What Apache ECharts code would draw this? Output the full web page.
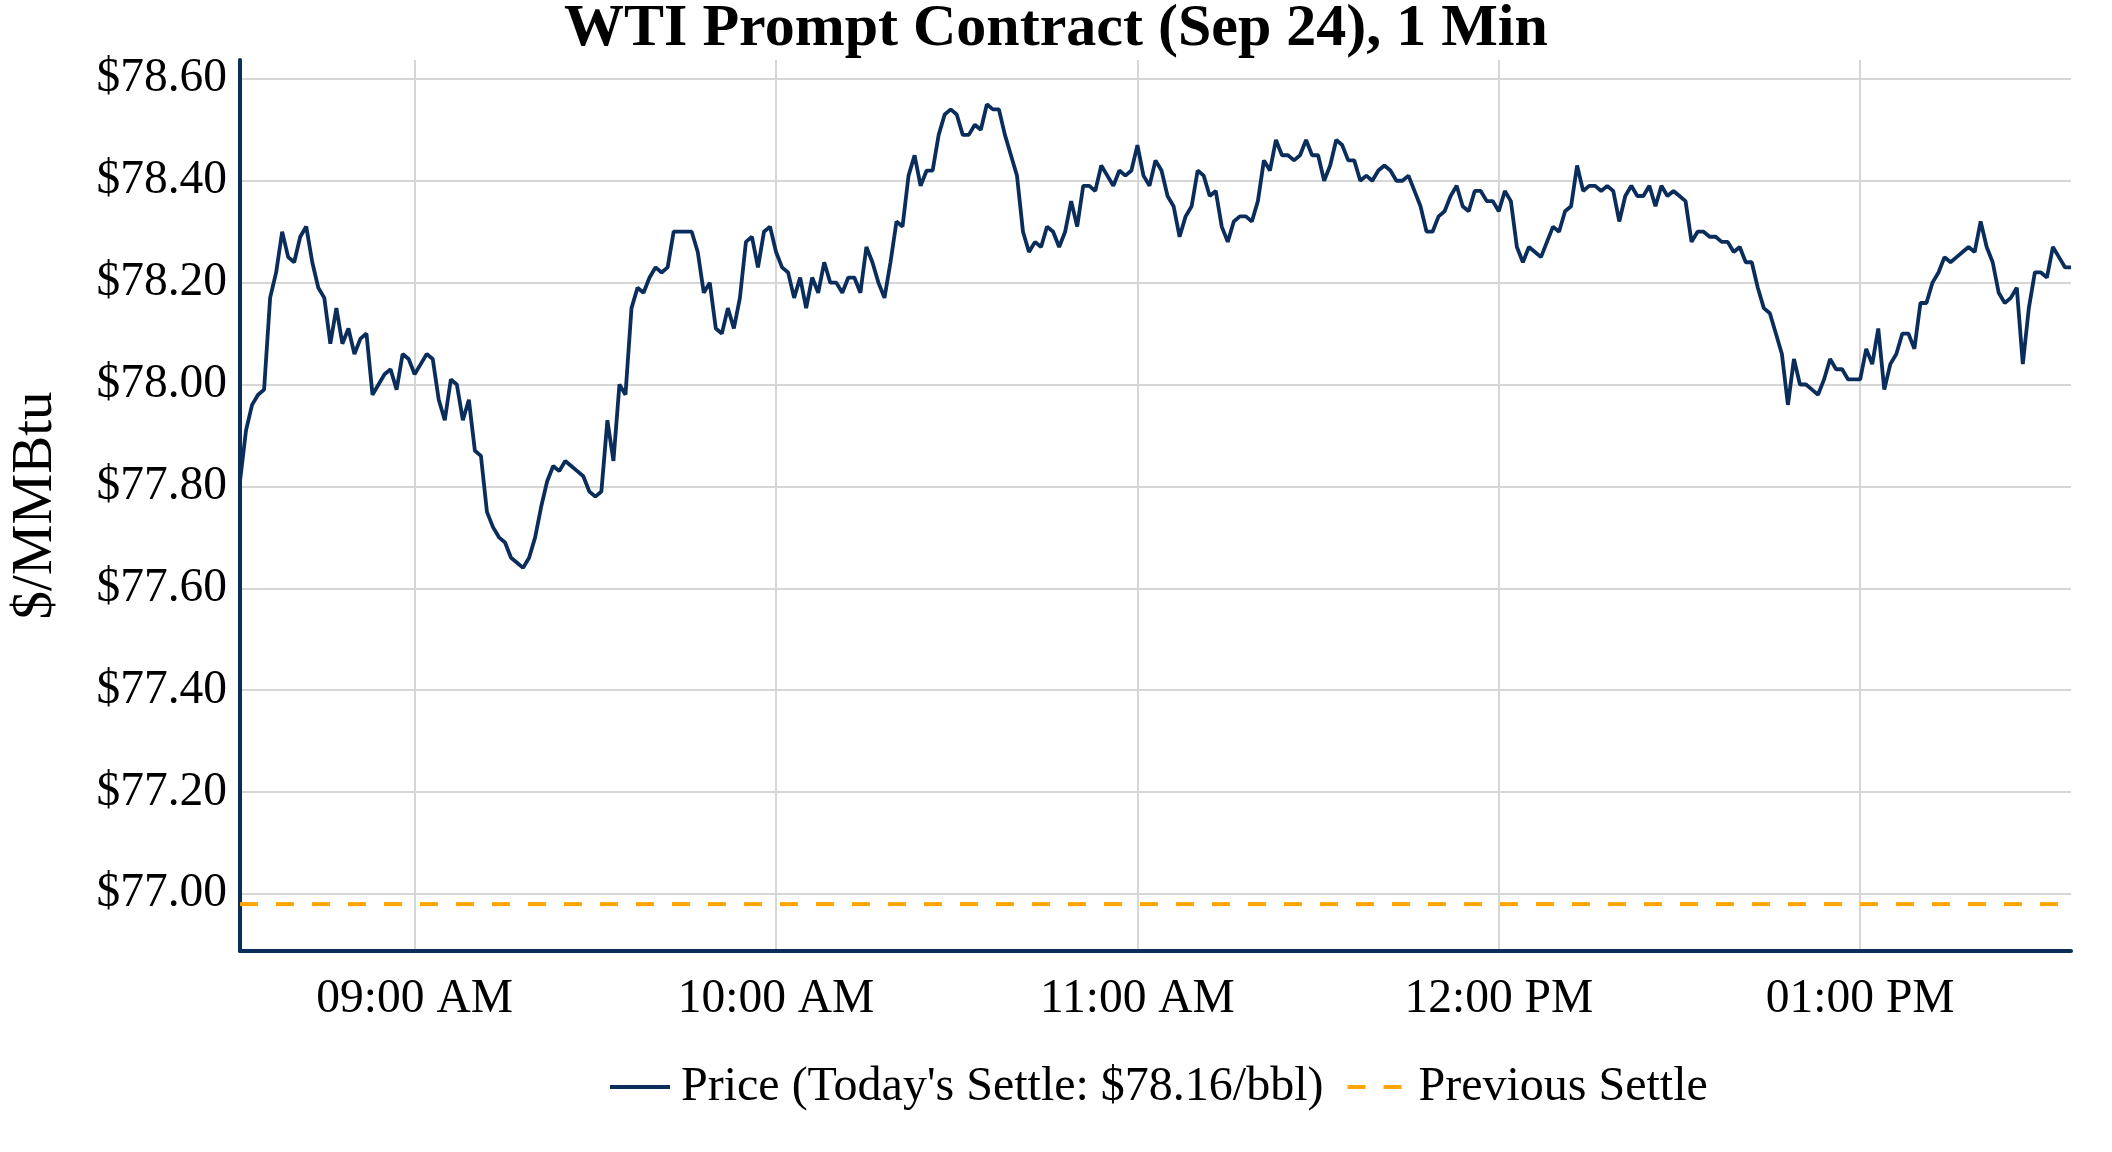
<!DOCTYPE html>
<html><head><meta charset="utf-8">
<script src="https://cdn.jsdelivr.net/npm/echarts@6/dist/echarts.min.js"></script>
<style>html,body{margin:0;padding:0;background:#fff}#c{width:2112px;height:1152px}</style>
</head><body><div id="c"></div>
<script>
// first bar time of the 1-minute series
const startHour = 8;
const startMinute = 31;

// 1-minute prices
const price0831to0859 = [77.81, 77.91, 77.96, 77.98, 77.99, 78.17, 78.22, 78.30, 78.25, 78.24,
  78.29, 78.31, 78.24, 78.19, 78.17, 78.08, 78.15, 78.08, 78.11, 78.06,
  78.09, 78.10, 77.98, 78.00, 78.02, 78.03, 77.99, 78.06, 78.05];
const price0900to0959 = [78.02, 78.04, 78.06, 78.05, 77.97, 77.93, 78.01, 78.00, 77.93, 77.97,
  77.87, 77.86, 77.75, 77.72, 77.70, 77.69, 77.66, 77.65, 77.64, 77.66,
  77.70, 77.76, 77.81, 77.84, 77.83, 77.85, 77.84, 77.83, 77.82, 77.79,
  77.78, 77.79, 77.93, 77.85, 78.00, 77.98, 78.15, 78.19, 78.18, 78.21,
  78.23, 78.22, 78.23, 78.30, 78.30, 78.30, 78.30, 78.26, 78.18, 78.20,
  78.11, 78.10, 78.15, 78.11, 78.17, 78.28, 78.29, 78.23, 78.30, 78.31];
const price1000to1059 = [78.26, 78.23, 78.22, 78.17, 78.21, 78.15, 78.21, 78.18, 78.24, 78.20,
  78.20, 78.18, 78.21, 78.21, 78.18, 78.27, 78.24, 78.20, 78.17, 78.24,
  78.32, 78.31, 78.41, 78.45, 78.39, 78.42, 78.42, 78.49, 78.53, 78.54,
  78.53, 78.49, 78.49, 78.51, 78.50, 78.55, 78.54, 78.54, 78.49, 78.45,
  78.41, 78.30, 78.26, 78.28, 78.27, 78.31, 78.30, 78.27, 78.30, 78.36,
  78.31, 78.39, 78.39, 78.38, 78.43, 78.41, 78.39, 78.42, 78.41, 78.42];
const price1100to1159 = [78.47, 78.41, 78.39, 78.44, 78.42, 78.37, 78.35, 78.29, 78.33, 78.35,
  78.42, 78.41, 78.37, 78.38, 78.31, 78.28, 78.32, 78.33, 78.33, 78.32,
  78.36, 78.44, 78.42, 78.48, 78.45, 78.45, 78.44, 78.45, 78.48, 78.45,
  78.45, 78.40, 78.43, 78.48, 78.47, 78.44, 78.44, 78.40, 78.41, 78.40,
  78.42, 78.43, 78.42, 78.40, 78.40, 78.41, 78.38, 78.35, 78.30, 78.30,
  78.33, 78.34, 78.37, 78.39, 78.35, 78.34, 78.38, 78.38, 78.36, 78.36];
const price1200to1259 = [78.34, 78.38, 78.36, 78.27, 78.24, 78.27, 78.26, 78.25, 78.28, 78.31,
  78.30, 78.34, 78.35, 78.43, 78.38, 78.39, 78.39, 78.38, 78.39, 78.38,
  78.32, 78.37, 78.39, 78.37, 78.37, 78.39, 78.35, 78.39, 78.37, 78.38,
  78.37, 78.36, 78.28, 78.30, 78.30, 78.29, 78.29, 78.28, 78.28, 78.26,
  78.27, 78.24, 78.24, 78.19, 78.15, 78.14, 78.10, 78.06, 77.96, 78.05,
  78.00, 78.00, 77.99, 77.98, 78.01, 78.05, 78.03, 78.03, 78.01, 78.01];
const price1300to1335 = [78.01, 78.07, 78.04, 78.11, 77.99, 78.04, 78.06, 78.10, 78.10, 78.07,
  78.16, 78.16, 78.20, 78.22, 78.25, 78.24, 78.25, 78.26, 78.27, 78.26,
  78.32, 78.27, 78.24, 78.18, 78.16, 78.17, 78.19, 78.04, 78.15, 78.22,
  78.22, 78.21, 78.27, 78.25, 78.23, 78.23];

const prevSettle = 76.98;
const todaySettle = 78.16;

const xTickLabels = ['09:00 AM', '10:00 AM', '11:00 AM', '12:00 PM', '01:00 PM'];
const yTickValues = [77.0, 77.2, 77.4, 77.6, 77.8, 78.0, 78.2, 78.4, 78.6];

const prices = [].concat(price0831to0859, price0900to0959, price1000to1059,
  price1100to1159, price1200to1259, price1300to1335);

function pad(n) { return (n < 10 ? '0' : '') + n; }
const times = prices.map(function (_, i) {
  const t = startHour * 60 + startMinute + i;
  const h24 = Math.floor(t / 60), m = t % 60;
  const h12 = h24 > 12 ? h24 - 12 : h24;
  return pad(h12) + ':' + pad(m) + ' ' + (h24 >= 12 ? 'PM' : 'AM');
});

const FONT = 'Liberation Serif';
const NAVY = '#0a2d5c';
const ORANGE = '#FFA500';
const chart = echarts.init(document.getElementById('c'), null, { renderer: 'canvas' });
const isHourTick = function (idx, val) { return xTickLabels.indexOf(val) >= 0; };
const priceName = "Price (Today's Settle: $" + todaySettle.toFixed(2) + "/bbl)";

chart.setOption({
  animation: false,
  backgroundColor: '#ffffff',
  title: {
    text: 'WTI Prompt Contract (Sep 24), 1 Min',
    left: 'center', top: -6,
    textStyle: { fontFamily: FONT, fontSize: 60, fontWeight: 'bold', color: '#000', lineHeight: 60 }
  },
  legend: {
    left: 603, top: 1058,
    itemWidth: 60, itemHeight: 20, itemGap: 22,
    itemStyle: { opacity: 0 },
    lineStyle: { width: 4 },
    textStyle: { fontFamily: FONT, fontSize: 48, color: '#000', padding: [0, 0, 0, 6] },
    data: [priceName, 'Previous Settle']
  },
  grid: { left: 238, right: 41, top: 60, bottom: 201, containLabel: false },
  xAxis: {
    type: 'category', data: times, boundaryGap: false,
    axisLine: { show: true, lineStyle: { color: NAVY, width: 4 } },
    axisTick: { show: false },
    axisLabel: { interval: isHourTick, fontFamily: FONT, fontSize: 47.5, color: '#000', margin: 25 },
    splitLine: { show: true, interval: isHourTick, lineStyle: { color: '#d6d6d6', width: 2 } }
  },
  yAxis: {
    type: 'value', min: 76.888, max: 78.637, splitNumber: 8,
    name: '$/MMBtu', nameLocation: 'middle', nameRotate: 90, nameGap: 175,
    nameTextStyle: { fontFamily: FONT, fontSize: 57, color: '#000' },
    axisLine: { show: true, lineStyle: { color: NAVY, width: 4 } },
    axisTick: { show: false },
    axisLabel: {
      fontFamily: FONT, fontSize: 47.5, color: '#000', margin: 13, padding: [12, 0, 0, 0],
      showMinLabel: false, showMaxLabel: false,
      formatter: function (v) {
        const ok = yTickValues.some(function (t) { return Math.abs(t - v) < 1e-6; });
        return ok ? '$' + v.toFixed(2) : '';
      }
    },
    splitLine: { show: true, showMinLine: false, showMaxLine: false, lineStyle: { color: '#d6d6d6', width: 2 } }
  },
  series: [
    {
      name: priceName,
      type: 'line', data: prices, symbol: 'none', z: 3,
      lineStyle: { color: NAVY, width: 3.8 }, itemStyle: { color: NAVY }
    },
    {
      name: 'Previous Settle',
      type: 'line', symbol: 'none', z: 2,
      data: [[times[0], prevSettle], [times[times.length - 1], prevSettle]],
      lineStyle: { color: ORANGE, width: 4, type: [18, 18] }, itemStyle: { color: ORANGE }
    }
  ]
});
</script></body></html>
